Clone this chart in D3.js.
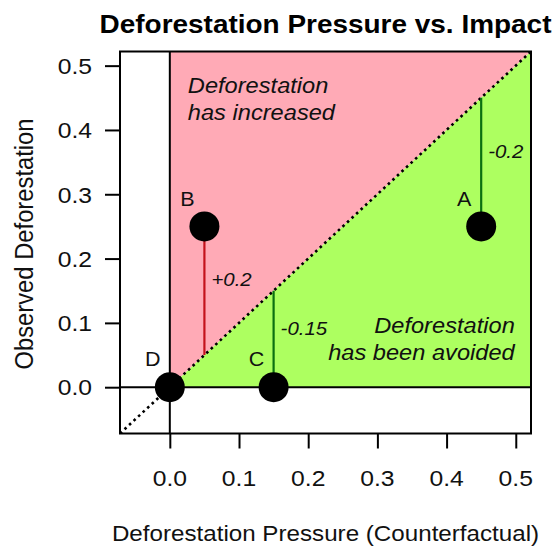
<!DOCTYPE html>
<html>
<head>
<meta charset="utf-8">
<script src="https://cdn.jsdelivr.net/npm/d3@7/dist/d3.min.js"></script>
<style>
  html, body { margin: 0; padding: 0; background: #fff; }
  svg { display: block; font-family: "Liberation Sans", Arial, Helvetica, sans-serif; }
</style>
</head>
<body>
<svg id="chart" width="555" height="546"></svg>
<script>
// ---- data ----
const pointLabels = ["A", "B", "C", "D"];
const pressure = [0.45, 0.05, 0.15, 0.0];   // counterfactual (x)
const observed = [0.25, 0.25, 0.0, 0.0];    // observed (y)
const changeLabels = ["-0.2", "+0.2", "-0.15", ""];
const tickValues = [0, 0.1, 0.2, 0.3, 0.4, 0.5];
const tickLabels = ["0.0", "0.1", "0.2", "0.3", "0.4", "0.5"];
const dataLimits = [-0.05, 0.5];
const titleText = "Deforestation Pressure vs. Impact";
const xTitle = "Deforestation Pressure (Counterfactual)";
const yTitle = "Observed Deforestation";
const increasedText = ["Deforestation", "has increased"];
const avoidedText = ["Deforestation", "has been avoided"];

// ---- setup ----
const SX = 1.075; // horizontal stretch of the reference image
const pad = 0.04 * (dataLimits[1] - dataLimits[0]);
const lo = dataLimits[0] - pad, hi = dataLimits[1] + pad;
const box = { left: 120, right: 531, top: 51.5, bottom: 433.5 };

const x = d3.scaleLinear().domain([lo, hi]).range([box.left, box.right]);
const y = d3.scaleLinear().domain([lo, hi]).range([box.bottom, box.top]);

const svg = d3.select("#chart");

svg.append("defs").append("clipPath").attr("id", "plotclip")
  .append("rect")
  .attr("x", box.left).attr("y", box.top)
  .attr("width", box.right - box.left).attr("height", box.bottom - box.top);

function addText(parent, px, py, str, o = {}) {
  const t = parent.append("text")
    .attr("transform", `translate(${px},${py}) scale(${SX},1)` + (o.rotate ? ` rotate(${o.rotate})` : ""))
    .attr("text-anchor", o.anchor || "start")
    .attr("font-size", o.size || 23)
    .attr("fill", o.fill || "#000")
    .text(str);
  if (o.weight) t.attr("font-weight", o.weight);
  if (o.style) t.attr("font-style", o.style);
  if (o.dy) t.attr("dy", o.dy);
  return t;
}

const plot = svg.append("g").attr("clip-path", "url(#plotclip)");

// regions
const line = d3.line().x(d => x(d[0])).y(d => y(d[1]));
plot.append("path")
  .attr("d", line([[0, 0], [0, hi], [hi, hi]]) + "Z")
  .attr("fill", "#FFAAB6");
plot.append("path")
  .attr("d", line([[0, 0], [hi, 0], [hi, hi]]) + "Z")
  .attr("fill", "#ADFF60");

// reference lines
plot.append("line")
  .attr("x1", x(0)).attr("x2", x(0)).attr("y1", box.top).attr("y2", box.bottom)
  .attr("stroke", "#000").attr("stroke-width", 2);
plot.append("line")
  .attr("x1", box.left).attr("x2", box.right).attr("y1", y(0)).attr("y2", y(0))
  .attr("stroke", "#000").attr("stroke-width", 2);

// diagonal 1:1 line
plot.append("path")
  .attr("d", line([[lo, lo], [hi, hi]]))
  .attr("stroke", "#000").attr("stroke-width", 2.6)
  .attr("stroke-dasharray", "2.6,3.6").attr("fill", "none");

// segments
const idx = d3.range(pointLabels.length);
plot.selectAll("line.seg").data(idx.filter(i => pressure[i] !== observed[i]))
  .enter().append("line").attr("class", "seg")
  .attr("x1", i => x(pressure[i])).attr("x2", i => x(pressure[i]))
  .attr("y1", i => y(observed[i])).attr("y2", i => y(pressure[i]))
  .attr("stroke", i => observed[i] > pressure[i] ? "#C4121C" : "#0B7011")
  .attr("stroke-width", 2.2);

// region texts
increasedText.forEach((s, k) => {
  addText(svg, x(0) + 18, 93 + k * 27, s, { size: 22, style: "italic", fill: "#111" });
});
avoidedText.forEach((s, k) => {
  addText(svg, x(0.5) - 1, 333 + k * 27, s, { size: 22, style: "italic", anchor: "end", fill: "#111" });
});

// change labels
idx.forEach(i => {
  if (!changeLabels[i]) return;
  const mid = (y(observed[i]) + y(pressure[i])) / 2;
  addText(svg, x(pressure[i]) + 7, mid - 11, changeLabels[i], { size: 19, style: "italic", dy: "0.35em", fill: "#111" });
});

// points
svg.selectAll("circle.pt").data(idx).enter().append("circle").attr("class", "pt")
  .attr("cx", i => x(pressure[i])).attr("cy", i => y(observed[i]))
  .attr("r", 15).attr("fill", "#000");

// point labels
idx.forEach(i => {
  addText(svg, x(pressure[i]) - 17, y(observed[i]) - 28, pointLabels[i], { size: 20, anchor: "middle", dy: "0.36em", fill: "#111" });
});

// box
svg.append("rect")
  .attr("x", box.left).attr("y", box.top)
  .attr("width", box.right - box.left).attr("height", box.bottom - box.top)
  .attr("fill", "none").attr("stroke", "#000").attr("stroke-width", 2);

// axes (ticks via d3 axis)
const xAxis = d3.axisBottom(x).tickValues(tickValues).tickSize(15).tickSizeOuter(0).tickFormat("");
const yAxis = d3.axisLeft(y).tickValues(tickValues).tickSize(15).tickSizeOuter(0).tickFormat("");
const gx = svg.append("g").attr("transform", `translate(0,${box.bottom})`).call(xAxis);
const gy = svg.append("g").attr("transform", `translate(${box.left},0)`).call(yAxis);
[gx, gy].forEach(g => {
  g.select(".domain").remove();
  g.selectAll(".tick line").attr("stroke", "#000").attr("stroke-width", 2);
});

tickValues.forEach((v, k) => {
  addText(svg, x(v), 478, tickLabels[k], { anchor: "middle", dy: "0.36em", fill: "#111" });
  addText(svg, 92, y(v), tickLabels[k], { anchor: "end", dy: "0.36em", fill: "#111" });
});

// titles
addText(svg, (box.left + box.right) / 2, 33, titleText, { size: 26, weight: "bold", anchor: "middle" });
addText(svg, (box.left + box.right) / 2, 541, xTitle, { size: 22.5, anchor: "middle", fill: "#111" });
addText(svg, 33, 244, yTitle, { size: 23.8, anchor: "middle", rotate: -90, fill: "#111" });
</script>
</body>
</html>
